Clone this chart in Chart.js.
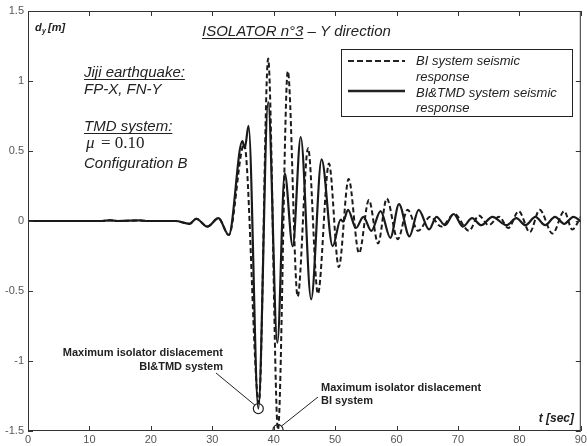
<!DOCTYPE html>
<html>
<head>
<meta charset="utf-8">
<script src="https://cdn.jsdelivr.net/npm/chart.js@4.4.0/dist/chart.umd.min.js"></script>
<style>
  html, body { margin: 0; padding: 0; background: #fff; }
</style>
</head>
<body>
<canvas id="chart" width="587" height="446"></canvas>
<script>
// axis ticks
const xTickValues = [0, 10, 20, 30, 40, 50, 60, 70, 80, 90];
const yTickValues = [-1.5, -1, -0.5, 0, 0.5, 1, 1.5];

// BI system (dashed) - turning points, t [sec] / d [m]
const tBI = [0, 12, 13.3, 14.6, 18.2, 19.5, 24, 26.3, 27.4, 29.2, 31.0, 32.7, 35.2, 37.6, 39.1, 40.7, 42.3, 43.9,
             45.6, 47.2, 49.0, 50.6, 52.2, 53.9, 55.5, 57.0, 58.4, 60.2, 61.8, 63.5, 65.5, 67.3, 69.4, 71.8,
             73.4, 75.0, 76.7, 78.2, 79.9, 81.7, 83.3, 85.4, 87.3, 88.6, 90];
const dBI = [0, 0, 0.005, 0, 0.004, 0, 0, -0.02, 0.016, -0.04, 0.02, -0.10, 0.55, -1.30, 1.16, -1.49, 1.07, -0.54,
             0.52, -0.52, 0.41, -0.33, 0.30, -0.23, 0.15, -0.16, 0.16, -0.13, 0.08, -0.07, 0.03, -0.04, 0.05, -0.07,
             0.04, -0.03, 0.03, -0.05, 0.07, -0.08, 0.08, -0.09, 0.07, -0.06, 0.03];

// BI&TMD system (solid)
const tTMD = [0, 12, 13.3, 14.6, 18.2, 19.5, 24, 26.3, 27.4, 29.2, 31.0, 32.7, 34.9, 35.3, 35.9, 37.5, 39.1, 40.6,
              41.8, 43.1, 44.4, 46.1, 47.8, 49.6, 50.9, 51.3, 52.1, 53.4, 54.6, 55.9, 57.4, 59.0, 60.4, 62.1,
              63.6, 65.3, 66.5, 67.9, 69.3, 70.8, 72.3, 73.8, 75.6, 77.9, 79.5, 81.0, 82.6, 84.2, 85.8, 87.3, 88.8, 90];
const dTMD = [0, 0, 0.005, 0, 0.004, 0, 0, -0.02, 0.016, -0.04, 0.02, -0.10, 0.57, 0.52, 0.68, -1.34, 0.85, -0.87,
              0.34, -0.18, 0.60, -0.56, 0.44, -0.18, 0.01, -0.005, 0.08, -0.05, 0.03, -0.07, 0.07, -0.12, 0.12, -0.11,
              0.08, -0.06, 0.03, -0.03, 0.05, -0.04, 0.02, -0.03, 0.03, -0.03, 0.02, -0.03, 0.03, -0.03, 0.03, -0.02, 0.03, 0.0];

// maximum isolator displacements (circled)
const maxTMD = [37.5, -1.34];
const maxBI = [40.7, -1.49];

const toPoints = (ts, ds) => ts.map((t, i) => ({x: t, y: ds[i]}));

const INK = '#1a1a1a';
const SANS = '"Liberation Sans", Arial, sans-serif';
const SERIF = '"Liberation Serif", "Times New Roman", serif';

function txt(ctx, s, x, y, font, align, underline) {
    ctx.font = font;
    ctx.textAlign = align || 'left';
    ctx.textBaseline = 'alphabetic';
    ctx.fillText(s, x, y);
    if (underline) {
        const w = ctx.measureText(s).width;
        const x0 = align === 'right' ? x - w : (align === 'center' ? x - w / 2 : x);
        ctx.fillRect(x0, y + 2, w, 1);
    }
}

// frame with inward ticks, texts, legend and annotations
const overlay = {
    id: 'overlay',
    afterDraw(chart) {
        const ctx = chart.ctx;
        const a = chart.chartArea;
        const xs = chart.scales.x, ys = chart.scales.y;
        ctx.save();
        ctx.strokeStyle = '#333';
        ctx.lineWidth = 1;
        ctx.strokeRect(a.left + 0.5, a.top + 0.5, a.right - a.left - 1, a.bottom - a.top - 1);
        ctx.beginPath();
        xTickValues.forEach(v => {
            const px = Math.round(xs.getPixelForValue(v)) + 0.5;
            ctx.moveTo(px, a.bottom); ctx.lineTo(px, a.bottom - 5);
            ctx.moveTo(px, a.top); ctx.lineTo(px, a.top + 5);
        });
        yTickValues.forEach(v => {
            const py = Math.round(ys.getPixelForValue(v)) + 0.5;
            ctx.moveTo(a.left, py); ctx.lineTo(a.left + 5, py);
            ctx.moveTo(a.right, py); ctx.lineTo(a.right - 5, py);
        });
        ctx.stroke();

        ctx.fillStyle = '#222';
        // axis names
        txt(ctx, 'd', 35, 31, 'italic bold 11px ' + SANS);
        txt(ctx, 'y', 42, 33, 'italic bold 7px ' + SANS);
        txt(ctx, '[m]', 48, 31, 'italic bold 11px ' + SANS);
        txt(ctx, 't [sec]', 574, 422, 'italic bold 12px ' + SANS, 'right');

        // title
        txt(ctx, 'ISOLATOR n°3', 202, 36, 'italic 15px ' + SANS, 'left', true);
        ctx.font = 'italic 15px ' + SANS;
        const tw = ctx.measureText('ISOLATOR n°3').width;
        txt(ctx, ' – Y direction', 202 + tw, 36, 'italic 15px ' + SANS);

        // case description
        txt(ctx, 'Jiji earthquake:', 84, 77, 'italic 15px ' + SANS, 'left', true);
        txt(ctx, 'FP-X, FN-Y', 84, 94, 'italic 15px ' + SANS);
        txt(ctx, 'TMD system:', 84, 131, 'italic 15px ' + SANS, 'left', true);
        txt(ctx, 'μ', 86, 148, 'italic 17px ' + SANS.replace(/.*/, SERIF));
        txt(ctx, '= 0.10', 101, 148, '17px ' + SERIF);
        txt(ctx, 'Configuration B', 84, 168, 'italic 15px ' + SANS);

        // legend
        ctx.strokeStyle = '#222';
        ctx.lineWidth = 1;
        ctx.strokeRect(341.5, 49.5, 231, 67);
        ctx.lineWidth = 2;
        ctx.setLineDash([6, 3]);
        ctx.beginPath(); ctx.moveTo(348, 61); ctx.lineTo(405, 61); ctx.stroke();
        ctx.setLineDash([]);
        ctx.lineWidth = 2.5;
        ctx.beginPath(); ctx.moveTo(348, 91); ctx.lineTo(405, 91); ctx.stroke();
        txt(ctx, 'BI system seismic', 416, 65, 'italic 13px ' + SANS);
        txt(ctx, 'response', 416, 81, 'italic 13px ' + SANS);
        txt(ctx, 'BI&TMD system seismic', 416, 97, 'italic 13px ' + SANS);
        txt(ctx, 'response', 416, 112, 'italic 13px ' + SANS);

        // annotations
        txt(ctx, 'Maximum isolator dislacement', 223, 356, 'bold 11px ' + SANS, 'right');
        txt(ctx, 'BI&TMD system', 223, 370, 'bold 11px ' + SANS, 'right');
        txt(ctx, 'Maximum isolator dislacement', 321, 391, 'bold 11px ' + SANS);
        txt(ctx, 'BI system', 321, 404, 'bold 11px ' + SANS);
        ctx.lineWidth = 1;
        ctx.strokeStyle = '#222';
        const c1x = xs.getPixelForValue(maxTMD[0]), c1y = ys.getPixelForValue(maxTMD[1]);
        const c2x = xs.getPixelForValue(maxBI[0]), c2y = ys.getPixelForValue(maxBI[1]);
        ctx.beginPath();
        ctx.moveTo(216, 373); ctx.lineTo(c1x - 3.5, c1y - 3.5);
        ctx.moveTo(318, 397); ctx.lineTo(c2x + 3.5, c2y - 3.5);
        ctx.stroke();
        ctx.restore();
    }
};

new Chart(document.getElementById('chart'), {
    type: 'line',
    data: {
        datasets: [
            {
                label: 'BI&TMD system seismic response',
                data: toPoints(tTMD, dTMD),
                borderColor: INK,
                borderWidth: 2.2,
                pointRadius: 0,
                cubicInterpolationMode: 'monotone',
                tension: 0.4,
                order: 1
            },
            {
                label: 'BI system seismic response',
                data: toPoints(tBI, dBI),
                borderColor: INK,
                borderWidth: 2,
                borderDash: [5, 3],
                pointRadius: 0,
                cubicInterpolationMode: 'monotone',
                tension: 0.4,
                order: 2
            },
            {
                label: 'max',
                data: [{x: maxTMD[0], y: maxTMD[1]}, {x: maxBI[0], y: maxBI[1]}],
                showLine: false,
                pointRadius: 5,
                pointStyle: 'circle',
                pointBorderColor: '#222',
                pointBorderWidth: 1.2,
                pointBackgroundColor: 'rgba(0,0,0,0)',
                order: 0
            }
        ]
    },
    options: {
        responsive: false,
        animation: false,
        devicePixelRatio: 1,
        layout: { padding: { top: 11, right: 5, left: 0, bottom: 0 } },
        plugins: { legend: { display: false }, tooltip: { enabled: false } },
        scales: {
            x: {
                type: 'linear',
                min: 0, max: 90,
                afterBuildTicks: s => { s.ticks = xTickValues.map(v => ({value: v})); },
                afterFit: s => { s.height = 15; s.paddingLeft = 0; s.paddingRight = 0; },
                grid: { display: false, drawTicks: false },
                border: { display: false },
                ticks: { padding: 2, maxRotation: 0, autoSkip: false, color: '#555',
                         font: { family: SANS, size: 11 }, callback: v => String(v) }
            },
            y: {
                type: 'linear',
                min: -1.5, max: 1.5,
                afterBuildTicks: s => { s.ticks = yTickValues.map(v => ({value: v})); },
                afterFit: s => { s.width = 28; s.paddingTop = 0; s.paddingBottom = 0; },
                grid: { display: false, drawTicks: false },
                border: { display: false },
                ticks: { padding: 4, autoSkip: false, color: '#555',
                         font: { family: SANS, size: 11 }, callback: v => String(v) }
            }
        }
    },
    plugins: [overlay]
});
</script>
</body>
</html>
